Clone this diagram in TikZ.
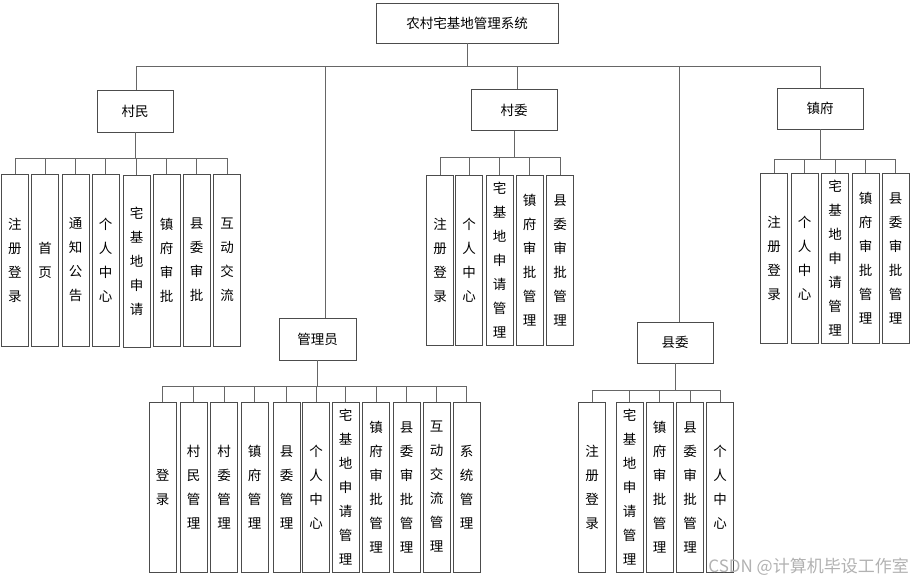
\documentclass[tikz,border=0pt]{standalone}
\usepackage{fontspec}
\setmainfont{Noto Sans CJK SC}
\tikzset{
  box/.style={draw=black!70, line width=0.9pt, fill=white, inner sep=0pt, align=center,
    font=\fontsize{13.5pt}{15pt}\selectfont},
  leaf/.style={draw=black!70, line width=0.9pt, fill=white, inner sep=0pt, align=center,
    minimum width=27pt, minimum height=170pt, font=\fontsize{13.5pt}{24pt}\selectfont},
  conn/.style={draw=black!60, line width=0.8pt},
}
\begin{document}
\begin{tikzpicture}[x=1pt,y=-1pt]
\useasboundingbox[fill=white] (0,0) rectangle (913,582);
% level 0 / 1
\node[box, minimum width=182pt, minimum height=40pt] (root) at (467,23) {农村宅基地管理系统};
\node[box, minimum width=76pt, minimum height=42pt] (cm) at (135,111) {村民};
\node[box, minimum width=86pt, minimum height=41pt] (cw) at (514,110) {村委};
\node[box, minimum width=86pt, minimum height=41pt] (zf) at (820,108.5) {镇府};
\node[box, minimum width=77pt, minimum height=42pt] (gl) at (317.5,339) {管理员};
\node[box, minimum width=76pt, minimum height=41pt] (xw) at (675,342.5) {县委};
% top bus
\coordinate (tb1) at (136,66);
\coordinate (tb2) at (325,66);
\coordinate (tb3) at (517,66);
\coordinate (tb4) at (679,66);
\coordinate (tb5) at (820,66);
\draw[conn] (root.south) -- (root.south |- tb1);
\draw[conn] (tb1) -- (tb5);
\draw[conn] (tb1) -- (tb1 |- cm.north);
\draw[conn] (tb2) -- (tb2 |- gl.north);
\draw[conn] (tb3) -- (tb3 |- cw.north);
\draw[conn] (tb4) -- (tb4 |- xw.north);
\draw[conn] (tb5) -- (tb5 |- zf.north);

% 村民 children
\node[leaf, minimum height=172pt] (a1) at (15,260) {注\\册\\登\\录};
\node[leaf, minimum height=172pt] (a2) at (45,260) {首\\页};
\node[leaf, minimum height=172pt] (a3) at (75.5,260) {通\\知\\公\\告};
\node[leaf, minimum height=172pt] (a4) at (105.5,260) {个\\人\\中\\心};
\node[leaf, minimum height=172pt] (a5) at (136.5,261) {宅\\基\\地\\申\\请};
\node[leaf, minimum height=172pt] (a6) at (166.5,260) {镇\\府\\审\\批};
\node[leaf, minimum height=172pt] (a7) at (196.5,260) {县\\委\\审\\批};
\node[leaf, minimum height=172pt] (a8) at (227,260) {互\\动\\交\\流};
\coordinate (ab) at (0,158);
\draw[conn] (cm.south) -- (cm.south |- ab);
\draw[conn] (a1.north |- ab) -- (a8.north |- ab);
\foreach \n in {a1,a2,a3,a4,a5,a6,a7,a8} \draw[conn] (\n.north) -- (\n.north |- ab);

% 村委 children
\node[leaf] (b1) at (440,260) {注\\册\\登\\录};
\node[leaf] (b2) at (469,260) {个\\人\\中\\心};
\node[leaf] (b3) at (499.5,260) {宅\\基\\地\\申\\请\\管\\理};
\node[leaf] (b4) at (529.5,260) {镇\\府\\审\\批\\管\\理};
\node[leaf] (b5) at (560,260) {县\\委\\审\\批\\管\\理};
\coordinate (bb) at (0,157);
\draw[conn] (cw.south) -- (cw.south |- bb);
\draw[conn] (b1.north |- bb) -- (b5.north |- bb);
\foreach \n in {b1,b2,b3,b4,b5} \draw[conn] (\n.north) -- (\n.north |- bb);

% 镇府 children
\node[leaf] (c1) at (774,258) {注\\册\\登\\录};
\node[leaf] (c2) at (804.5,258) {个\\人\\中\\心};
\node[leaf] (c3) at (835,258) {宅\\基\\地\\申\\请\\管\\理};
\node[leaf] (c4) at (865.5,258) {镇\\府\\审\\批\\管\\理};
\node[leaf] (c5) at (895.5,258) {县\\委\\审\\批\\管\\理};
\coordinate (cb) at (0,159);
\draw[conn] (zf.south) -- (zf.south |- cb);
\draw[conn] (c1.north |- cb) -- (c5.north |- cb);
\foreach \n in {c1,c2,c3,c4,c5} \draw[conn] (\n.north) -- (\n.north |- cb);

% 管理员 children
\node[leaf] (d1) at (162.5,487) {登\\录};
\node[leaf] (d2) at (193.5,487) {村\\民\\管\\理};
\node[leaf] (d3) at (224,487) {村\\委\\管\\理};
\node[leaf] (d4) at (254.5,487) {镇\\府\\管\\理};
\node[leaf] (d5) at (286.5,487) {县\\委\\管\\理};
\node[leaf] (d6) at (316,487) {个\\人\\中\\心};
\node[leaf] (d7) at (345.5,487) {宅\\基\\地\\申\\请\\管\\理};
\node[leaf] (d8) at (376,487) {镇\\府\\审\\批\\管\\理};
\node[leaf] (d9) at (406.5,487) {县\\委\\审\\批\\管\\理};
\node[leaf] (d10) at (436.5,487) {互\\动\\交\\流\\管\\理};
\node[leaf] (d11) at (466.5,487) {系\\统\\管\\理};
\coordinate (db) at (0,386);
\draw[conn] (gl.south) -- (gl.south |- db);
\draw[conn] (d1.north |- db) -- (d11.north |- db);
\foreach \n in {d1,d2,d3,d4,d5,d6,d7,d8,d9,d10,d11} \draw[conn] (\n.north) -- (\n.north |- db);

% 县委 children
\node[leaf] (e1) at (592,487) {注\\册\\登\\录};
\node[leaf] (e2) at (629.5,487) {宅\\基\\地\\申\\请\\管\\理};
\node[leaf] (e3) at (659.5,487) {镇\\府\\审\\批\\管\\理};
\node[leaf] (e4) at (690,487) {县\\委\\审\\批\\管\\理};
\node[leaf] (e5) at (720,487) {个\\人\\中\\心};
\coordinate (eb) at (0,390);
\draw[conn] (xw.south) -- (xw.south |- eb);
\draw[conn] (e1.north |- eb) -- (e5.north |- eb);
\foreach \n in {e1,e2,e3,e4,e5} \draw[conn] (\n.north) -- (\n.north |- eb);

% watermark
\node[anchor=east, text=black!30, font=\fontsize{17pt}{19pt}\selectfont, inner sep=0pt] (wm) at (909,567) {CSDN @计算机毕设工作室};
\end{tikzpicture}
\end{document}
